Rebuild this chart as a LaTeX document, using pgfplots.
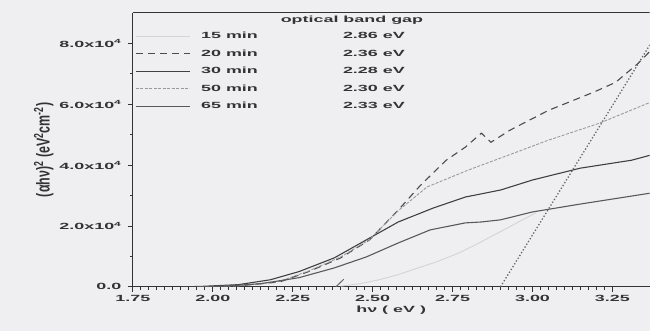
\documentclass[border=0pt]{standalone}
\usepackage{pgfplots}
\pgfplotsset{compat=1.18}
\usepackage{fontspec}
\setmainfont{Liberation Sans}[FakeStretch=2.0]
\newfontfamily\plainfont{Liberation Sans}
\usetikzlibrary{backgrounds}
\definecolor{bg}{HTML}{EFEFF1}
\definecolor{ink}{HTML}{333333}
\begin{document}
\begin{tikzpicture}[show background rectangle, inner frame sep=0pt,
  background rectangle/.style={fill=bg, draw=none}]
\begin{axis}[
  scale only axis, width=517bp, height=274bp,
  xmin=1.75, xmax=3.366, ymin=0, ymax=9,
  axis x line*=bottom, axis y line*=left,
  axis line style={ink, line width=1bp},
  xtick={1.75,2,2.25,2.5,2.75,3,3.25},
  xticklabels={1.75,2.00,2.25,2.50,2.75,3.00,3.25},
  minor x tick num=9,
  ytick={0,2,4,6,8},
  yticklabels={0.0,2.0x10\textsuperscript{4},4.0x10\textsuperscript{4},6.0x10\textsuperscript{4},8.0x10\textsuperscript{4}},
  minor y tick num=1,
  tick align=outside, major tick length=5bp, minor tick length=3bp,
  tick style={ink, line width=0.8bp},
  ticklabel style={font=\fontsize{9}{10}\selectfont\bfseries, text=ink},
  yticklabel style={xshift=-3bp},
  xlabel={hν ( eV )},
  xlabel style={font=\fontsize{9}{10}\selectfont\bfseries, text=ink, yshift=2bp},
  ylabel={\scalebox{1}[1.5]{\plainfont\bfseries\fontsize{12.5}{14}\selectfont (αhν)\textsuperscript{2} (eV\textsuperscript{2}cm\textsuperscript{-2})}},
  ylabel style={text=ink, yshift=-1bp},
  clip=true,
  legend image code/.code={\draw[#1] (0bp,0bp) -- (54bp,0bp);},
  legend cell align=left,
  legend style={at={(rel axis cs:0,1)}, anchor=north west, xshift=2bp, yshift=-18bp,
    draw=none, fill=none, inner sep=0pt, row sep=7.5bp,
    font=\fontsize{9}{10}\selectfont\bfseries, text=ink,
    nodes={inner sep=1bp},
    /tikz/every odd column/.append style={column sep=10bp}},
]
% 15 min (faint)
\addplot[color=black!17, line width=0.9bp] coordinates {
 (2.40,0.02) (2.46,0.10) (2.52,0.23) (2.58,0.40) (2.625,0.56) (2.70,0.82) (2.77,1.11) (2.84,1.48) (2.91,1.87) (2.96,2.15) (3.01,2.43)};
\addlegendentry{\makebox[142bp][l]{15 min}2.86 eV}
% 20 min dashed
\addplot[color=black!70, line width=1.1bp, dash pattern=on 7bp off 5bp] coordinates {
 (1.95,0) (2.08,0.03) (2.21,0.16) (2.30,0.50) (2.40,0.95) (2.49,1.54) (2.58,2.52) (2.65,3.34) (2.73,4.16) (2.79,4.59) (2.84,5.05) (2.87,4.75) (2.93,5.15) (3.05,5.80) (3.19,6.39) (3.26,6.72) (3.33,7.34) (3.37,7.77)};
\addlegendentry{\makebox[142bp][l]{20 min}2.36 eV}
% 30 min solid dark
\addplot[color=black!75, line width=1.1bp] coordinates {
 (1.90,0) (1.96,0.01) (2.08,0.07) (2.18,0.23) (2.27,0.50) (2.38,0.95) (2.48,1.54) (2.58,2.13) (2.69,2.59) (2.79,2.95) (2.90,3.18) (3.00,3.51) (3.15,3.90) (3.31,4.16) (3.37,4.33)};
\addlegendentry{\makebox[142bp][l]{30 min}2.28 eV}
% 50 min light
\addplot[color=black!40, line width=0.9bp, dash pattern=on 3bp off 1.5bp] coordinates {
 (1.95,0) (2.08,0.03) (2.21,0.18) (2.30,0.52) (2.40,0.98) (2.49,1.55) (2.58,2.50) (2.67,3.28) (2.80,3.84) (2.90,4.23) (3.05,4.82) (3.21,5.38) (3.37,6.07)};
\addlegendentry{\makebox[142bp][l]{50 min}2.30 eV}
% 65 min solid
\addplot[color=black!65, line width=1.1bp] coordinates {
 (1.95,0) (2.02,0.01) (2.15,0.10) (2.27,0.30) (2.38,0.62) (2.48,0.98) (2.58,1.44) (2.68,1.87) (2.79,2.10) (2.84,2.13) (2.90,2.20) (3.00,2.46) (3.15,2.72) (3.37,3.08)};
\addlegendentry{\makebox[142bp][l]{65 min}2.33 eV}
% extrapolation line (dotted)
\addplot[forget plot, color=black!60, line width=1.3bp, dotted] coordinates {(2.90,0) (3.37,8.0)};
\addplot[forget plot, color=black!60, line width=1bp] coordinates {(2.385,0) (2.41,0.25)};
\draw[ink, line width=1bp] (rel axis cs:0,1) -- (rel axis cs:1,1);
\node[font=\fontsize{9}{10}\selectfont\bfseries, text=ink] at (rel axis cs:0.424,0.972) {optical band gap};
\coordinate (SW) at (rel axis cs:0,0);
\coordinate (NE) at (rel axis cs:1,1);
\end{axis}
\path ([shift={(-133bp,-44bp)}]SW) rectangle ([shift={(0bp,13bp)}]NE);
\end{tikzpicture}
\end{document}
